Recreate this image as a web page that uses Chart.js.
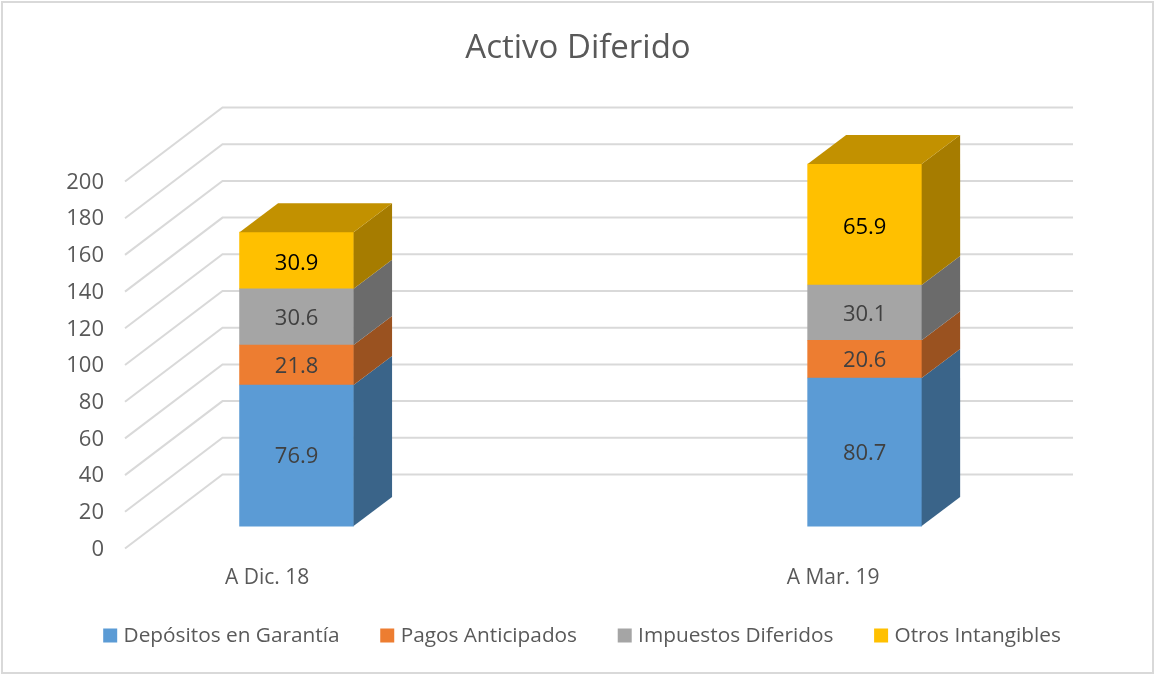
<!DOCTYPE html>
<html><head><meta charset="utf-8">
<style>html,body{margin:0;padding:0;background:#fff}canvas{display:block}</style>
<script src="https://cdn.jsdelivr.net/npm/chart.js@4"></script>
</head><body>
<canvas id="c" width="1156" height="677"></canvas>
<script>
const categories = ['A Dic. 18', 'A Mar. 19'];
const depositos = [76.9, 80.7];
const pagos = [21.8, 20.6];
const impuestos = [30.6, 30.1];
const otros = [30.9, 65.9];
const seriesNames = ['Depósitos en Garantía', 'Pagos Anticipados', 'Impuestos Diferidos', 'Otros Intangibles'];
const frontColors = ['#5B9BD5', '#ED7D31', '#A5A5A5', '#FFC000'];
const sideColors = ['#3A6489', '#9A5220', '#6B6B6B', '#A67C00'];
const labelColors = ['#404040', '#404040', '#404040', '#000000'];
const labelNudge = [1.5, 1.5, 2, 3.5];
const topColor = '#C29100';
const FONT = '"Open Sans"';

const wall = {dx: 97.5, dy: 74, right: 1073};
const bar = {dx: 38.5, dy: 29};

const plugin3d = {
  id: 'plugin3d',
  afterLayout(chart) {
    // let the axis labels extend past the box reserved for the axis, and nudge the legend
    chart.scales.x.bottom = chart.scales.x.top + 50;
    chart.legend.left += 6;
    chart.legend.right += 6;
  },
  beforeDraw(chart) {
    const c = chart.ctx;
    c.save();
    c.fillStyle = '#fff';
    c.fillRect(0, 0, chart.width, chart.height);
    c.strokeStyle = '#D9D9D9';
    c.lineWidth = 2;
    c.strokeRect(2, 2, 1151, 671);
    c.restore();
  },
  beforeDatasetsDraw(chart) {
    const c = chart.ctx, s = chart.scales.y, left = chart.chartArea.left;
    c.save();
    c.strokeStyle = '#D9D9D9';
    c.lineWidth = 2;
    s.ticks.forEach((t, i) => {
      const y = s.getPixelForTick(i);
      c.beginPath();
      c.moveTo(left, y);
      c.lineTo(left + wall.dx, y - wall.dy);
      c.lineTo(wall.right, y - wall.dy);
      c.stroke();
    });
    c.restore();
  },
  afterDatasetsDraw(chart) {
    const c = chart.ctx;
    c.save();
    const n = chart.data.datasets.length;
    chart.data.datasets.forEach((ds, d) => {
      chart.getDatasetMeta(d).data.forEach((el) => {
        const r = el.x + el.width / 2, l = el.x - el.width / 2;
        c.fillStyle = sideColors[d];
        c.beginPath();
        c.moveTo(r, el.base);
        c.lineTo(r + bar.dx, el.base - bar.dy);
        c.lineTo(r + bar.dx, el.y - bar.dy);
        c.lineTo(r, el.y);
        c.closePath();
        c.fill();
        if (d === n - 1) {
          c.fillStyle = topColor;
          c.beginPath();
          c.moveTo(l, el.y);
          c.lineTo(l + bar.dx, el.y - bar.dy);
          c.lineTo(r + bar.dx, el.y - bar.dy);
          c.lineTo(r, el.y);
          c.closePath();
          c.fill();
        }
      });
    });
    c.font = '22px ' + FONT;
    c.textAlign = 'center';
    c.textBaseline = 'middle';
    chart.data.datasets.forEach((ds, d) => {
      chart.getDatasetMeta(d).data.forEach((el, i) => {
        c.fillStyle = labelColors[d];
        c.fillText(ds.data[i].y.toFixed(1), el.x, (el.y + el.base) / 2 + labelNudge[d]);
      });
    });
    c.restore();
  }
};

const mk = (name, vals, i) => ({
  label: name,
  data: vals.map((v, k) => ({x: k, y: v})),
  backgroundColor: frontColors[i],
  xAxisID: 'xBars', yAxisID: 'yBars',
  stack: 'a', barThickness: 114, clip: false
});

new Chart(document.getElementById('c'), {
  type: 'bar',
  data: {datasets: [mk(seriesNames[0], depositos, 0), mk(seriesNames[1], pagos, 1), mk(seriesNames[2], impuestos, 2), mk(seriesNames[3], otros, 3)]},
  plugins: [plugin3d],
  options: {
    responsive: false, animation: false,
    layout: {padding: {top: 0, bottom: 21, left: 0, right: 0}},
    plugins: {
      tooltip: {enabled: false},
      title: {display: true, text: 'Activo Diferido', color: '#595959', font: {family: FONT, size: 33, weight: 'normal'}, padding: {top: 29, bottom: 112.9}},
      legend: {position: 'bottom', labels: {font: {family: FONT, size: 20.8}, color: '#595959', usePointStyle: true, pointStyle: 'rect', boxWidth: 6, boxHeight: 14, padding: 44.7}}
    },
    scales: {
      x: {type: 'linear', position: 'bottom', offset: false, min: -0.251, max: 1.2525, grid: {display: false}, border: {display: false},
        afterBuildTicks(s) { s.ticks = categories.map((_, i) => ({value: i})); },
        afterFit(s) { s.height = 32; },
        ticks: {color: '#595959', padding: 9, maxRotation: 0, autoSkip: false, font: {family: FONT, size: 21}, callback: v => categories[v]}},
      xBars: {type: 'linear', display: false, offset: false, min: -0.302, max: 1.196, stacked: true},
      y: {position: 'left', min: 0, max: 200, grid: {display: false}, border: {display: false},
        afterFit(s) { s.width = 125; },
        ticks: {stepSize: 20, color: '#595959', padding: 13, labelOffset: 1, font: {family: FONT, size: 22}}},
      yBars: {position: 'right', min: -12.2, max: 187.8, stacked: true, grid: {display: false}, border: {display: false},
        afterFit(s) { s.width = 180; },
        ticks: {display: false}}
    }
  }
});
</script>
</body></html>
